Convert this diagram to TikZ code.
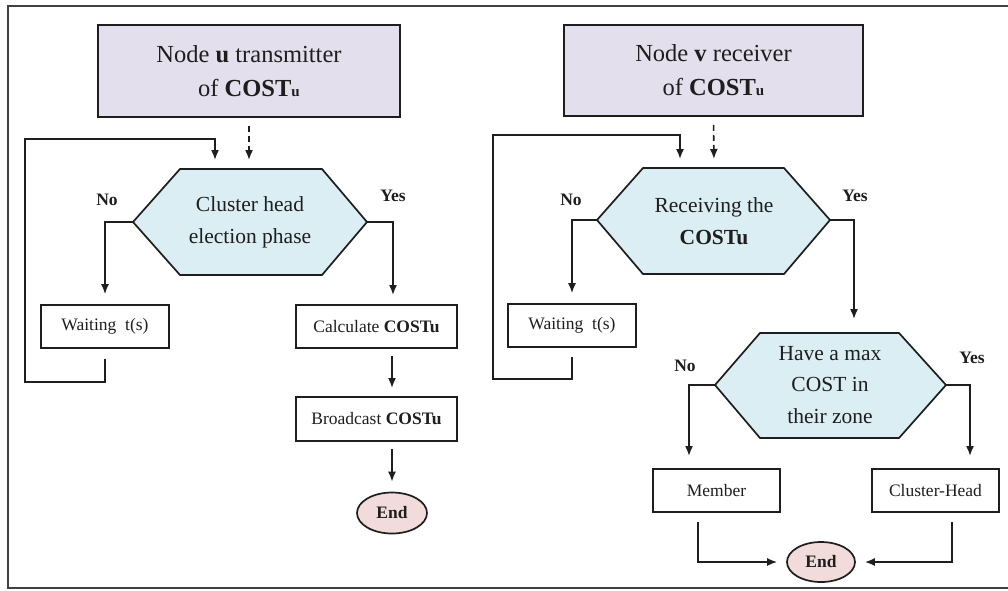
\documentclass[tikz,border=0pt]{standalone}
\usepackage{fontspec}
\setmainfont{Liberation Serif}
\usetikzlibrary{arrows.meta,shapes.geometric}
\definecolor{lav}{HTML}{E4DFEC}
\definecolor{hexblue}{HTML}{DAEEF3}
\definecolor{endpink}{HTML}{F2DCDB}
\definecolor{ink}{HTML}{1E1E1E}
\begin{document}
\begin{tikzpicture}[x=1pt,y=-1pt,
  frame/.style={line width=2pt, draw=black!75},
  titlebox/.style={draw=ink, line width=1.7pt, fill=lav, align=center, inner sep=0pt,
    font=\fontsize{24.5}{34}\selectfont, text=ink},
  stepbox/.style={draw=ink, line width=1.7pt, fill=white, inner sep=0pt,
    minimum height=43pt, font=\fontsize{17.5}{20}\selectfont, text=ink},
  hexa/.style={draw=ink, line width=1.7pt, fill=hexblue},
  hextext/.style={align=center, inner sep=0pt, font=\fontsize{21.5}{31.5}\selectfont, text=ink},
  endnode/.style={draw=ink, line width=1.7pt, fill=endpink, ellipse, inner sep=0pt,
    font=\bfseries\fontsize{17.5}{20}\selectfont, text=ink},
  lab/.style={font=\bfseries\fontsize{17.5}{20}\selectfont, text=ink, inner sep=0pt},
  arr/.style={draw=ink, line width=1.6pt, -{Latex[length=10pt,width=8pt]}},
  dasharr/.style={arr, dash pattern=on 6pt off 4pt},
]
\useasboundingbox (0,0) rectangle (1008,590);
% outer frame (open on the right)
\draw[frame] (1008,6) -- (8,6) -- (8,588) -- (1008,588);

% ---------------- left flow ----------------
\node[titlebox, minimum width=302pt, minimum height=92pt] (tl) at (249,71)
  {Node \textbf{u} transmitter\\ of \textbf{COST}{\bfseries\fontsize{15}{15}\selectfont u}};
\draw[hexa] (133,222) -- (180,169) -- (322,169) -- (367,222) -- (322,275) -- (180,275) -- cycle;
\coordinate (h1w) at (133,222);
\coordinate (h1e) at (367,222);
\coordinate (h1n) at (249,169);
\coordinate (h1loop) at (215,169);
\node[hextext] (h1) at (250,222.5) {Cluster head\\ election phase};
\node[stepbox, minimum width=128pt] (wl) at (105,326.5) {Waiting\ \ t(s)};
\node[stepbox, minimum width=161pt] (calc) at (376.5,326.5) {Calculate \textbf{COSTu}};
\node[stepbox, minimum width=161pt, minimum height=44pt] (bc) at (376.5,419) {Broadcast \textbf{COSTu}};
\node[endnode, minimum width=70pt, minimum height=41pt] (el) at (392,513) {End};
\coordinate (calcin) at (393,305);
\coordinate (calcout) at (392,348);
\coordinate (bcin) at (392,397);
\coordinate (bcout) at (392,441);
\node[lab] (nol) at (107,200) {No};
\node[lab] (yesl) at (393,196) {Yes};

\draw[dasharr, shorten <=8pt, shorten >=9pt] (tl.south) -- (h1n);
\draw[arr, shorten >=10pt] (h1w) -| (wl.north);
\draw[arr, shorten >=10pt] (h1e) -| (calcin);
\draw[arr, shorten <=8pt, shorten >=9pt] (calcout) -- (bcin);
\draw[arr, shorten <=8pt, shorten >=10pt] (bcout) -- (el.north);
\draw[arr, shorten <=10pt, shorten >=9pt] (wl.south) -- ++(0,33) -| (25,139) -| (h1loop);

% ---------------- right flow ----------------
\node[titlebox, minimum width=299pt, minimum height=91pt] (tr) at (713.5,70.5)
  {Node \textbf{v} receiver\\ of \textbf{COST}{\bfseries\fontsize{15}{15}\selectfont u}};
\draw[hexa] (597,220) -- (643,168) -- (784,168) -- (830,220) -- (784,274) -- (643,274) -- cycle;
\coordinate (h2w) at (597,220);
\coordinate (h2e) at (830,220);
\coordinate (h2n) at (714,168);
\coordinate (h2loop) at (680,168);
\node[hextext] (h2) at (714,221) {Receiving the\\ \textbf{COSTu}};
\node[stepbox, minimum width=128pt] (wr) at (572,325.5) {Waiting\ \ t(s)};
\draw[hexa] (715,385) -- (760,333) -- (899,333) -- (946,385) -- (899,438) -- (760,438) -- cycle;
\coordinate (h3w) at (715,385);
\coordinate (h3e) at (946,385);
\coordinate (h3in) at (854,333);
\node[hextext] (h3) at (830,385) {Have a max\\ COST in\\ their zone};
\node[stepbox, minimum width=127pt] (mem) at (716.5,490.5) {Member};
\node[stepbox, minimum width=127pt] (ch) at (935.5,490.5) {Cluster-Head};
\node[endnode, minimum width=68pt, minimum height=40pt] (er) at (821,562) {End};
\coordinate (memin) at (689,469);
\coordinate (chin) at (970,469);
\coordinate (memout) at (698,512);
\coordinate (chout) at (952,512);
\node[lab] (nor) at (571,200) {No};
\node[lab] (yesr) at (855,196) {Yes};
\node[lab] (no3) at (685,366) {No};
\node[lab] (yes3) at (972,358) {Yes};

\draw[dasharr, shorten <=8pt, shorten >=9pt] (tr.south) -- (h2n);
\draw[arr, shorten >=10pt] (h2w) -| (wr.north);
\draw[arr, shorten >=14pt] (h2e) -| (h3in);
\draw[arr, shorten <=9pt, shorten >=9pt] (wr.south) -- ++(0,31) -| (493,135) -| (h2loop);
\draw[arr, shorten >=13pt] (h3w) -| (memin);
\draw[arr, shorten >=13pt] (h3e) -| (chin);
\draw[arr, shorten <=10pt, shorten >=9pt] (memout) |- (er.west);
\draw[arr, shorten <=10pt, shorten >=9pt] (chout) |- (er.east);
\end{tikzpicture}
\end{document}
